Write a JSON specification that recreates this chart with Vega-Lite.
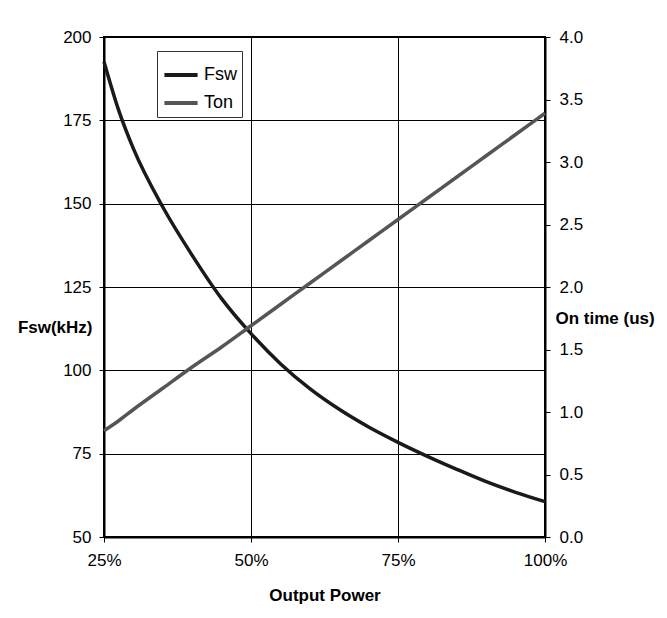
{
  "$schema": "https://vega.github.io/schema/vega-lite/v6.json",
  "width": 441,
  "height": 500,
  "autosize": {"type": "none"},
  "padding": {"left": 104, "top": 37, "right": 122, "bottom": 81},
  "background": "white",
  "config": {
    "font": "Liberation Sans",
    "view": {"stroke": "black", "strokeWidth": 2},
    "axis": {
      "labelFont": "Liberation Sans",
      "labelFontSize": 17,
      "labelColor": "black",
      "labelFlush": false,
      "titleFont": "Liberation Sans",
      "titleFontSize": 17,
      "titleFontWeight": "bold",
      "titleColor": "black",
      "domainColor": "black",
      "domainWidth": 2,
      "tickColor": "black",
      "tickSize": 5,
      "tickWidth": 1,
      "labelPadding": 8,
      "gridColor": "black",
      "gridWidth": 1,
      "gridOpacity": 1
    }
  },
  "data": {
    "values": [
      {"p": 0.25, "fsw": 192.6, "ton": 0.85},
      {"p": 0.275, "fsw": 178.0, "ton": 0.93},
      {"p": 0.30, "fsw": 166.5, "ton": 1.02},
      {"p": 0.35, "fsw": 149.0, "ton": 1.19},
      {"p": 0.40, "fsw": 134.5, "ton": 1.36},
      {"p": 0.45, "fsw": 121.5, "ton": 1.52},
      {"p": 0.50, "fsw": 111.0, "ton": 1.69},
      {"p": 0.55, "fsw": 102.0, "ton": 1.86},
      {"p": 0.60, "fsw": 94.5, "ton": 2.03},
      {"p": 0.65, "fsw": 88.3, "ton": 2.20},
      {"p": 0.70, "fsw": 83.0, "ton": 2.37},
      {"p": 0.75, "fsw": 78.4, "ton": 2.54},
      {"p": 0.80, "fsw": 74.2, "ton": 2.71},
      {"p": 0.85, "fsw": 70.3, "ton": 2.88},
      {"p": 0.90, "fsw": 66.6, "ton": 3.05},
      {"p": 0.95, "fsw": 63.4, "ton": 3.22},
      {"p": 1.00, "fsw": 60.6, "ton": 3.39}
    ]
  },
  "encoding": {
    "x": {
      "field": "p",
      "type": "quantitative",
      "scale": {"domain": [0.25, 1], "nice": false, "zero": false},
      "axis": {
        "values": [0.25, 0.5, 0.75, 1],
        "format": ".0%",
        "title": "Output Power",
        "titleY": 58,
        "titleBaseline": "middle",
        "grid": true,
        "labelPadding": 10
      }
    }
  },
  "layer": [
    {
      "mark": {"type": "line", "strokeWidth": 3.5, "interpolate": "monotone"},
      "encoding": {
        "y": {
          "field": "fsw",
          "type": "quantitative",
          "scale": {"domain": [50, 200], "nice": false, "zero": false},
          "axis": {
            "values": [50, 75, 100, 125, 150, 175, 200],
            "title": "Fsw(kHz)",
            "titleAngle": 0,
            "titleAlign": "right",
            "titleBaseline": "middle",
            "titleX": -12,
            "titleY": 290,
            "grid": true
          }
        },
        "color": {
          "datum": "Fsw",
          "type": "nominal",
          "scale": {"domain": ["Fsw", "Ton"], "range": ["#1a1a1a", "#555555"]},
          "legend": {
            "title": null,
            "orient": "none",
            "legendX": 53,
            "legendY": 14,
            "direction": "vertical",
            "symbolType": "stroke",
            "symbolSize": 1100,
            "symbolStrokeWidth": 4,
            "labelFont": "Liberation Sans",
            "labelFontSize": 18,
            "labelColor": "black",
            "labelOffset": 4,
            "rowPadding": -9,
            "padding": 5,
            "strokeColor": "#333333",
            "fillColor": "white"
          }
        }
      }
    },
    {
      "mark": {"type": "line", "strokeWidth": 3.5, "interpolate": "monotone"},
      "encoding": {
        "y": {
          "field": "ton",
          "type": "quantitative",
          "scale": {"domain": [0, 4], "nice": false},
          "axis": {
            "orient": "right",
            "values": [0, 0.5, 1, 1.5, 2, 2.5, 3, 3.5, 4],
            "format": ".1f",
            "title": "On time (us)",
            "titleAngle": 0,
            "titleAlign": "left",
            "titleBaseline": "middle",
            "titleX": 10,
            "titleY": 281,
            "grid": false,
            "labelPadding": 9
          }
        },
        "color": {"datum": "Ton", "type": "nominal"}
      }
    }
  ],
  "resolve": {"scale": {"y": "independent"}}
}
